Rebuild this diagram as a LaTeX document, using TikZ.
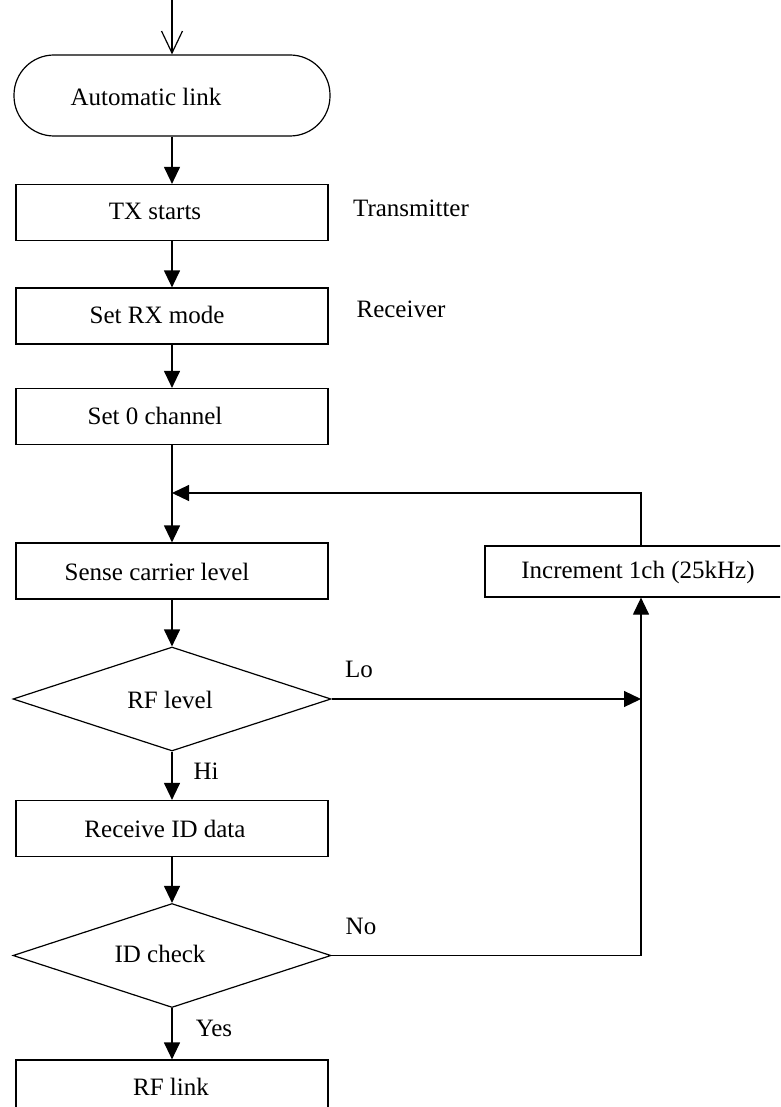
\documentclass[tikz,border=0pt]{standalone}
\usepackage{fontspec}
\setmainfont{Liberation Serif}
\usetikzlibrary{arrows.meta,shapes.geometric}
\begin{document}
\begin{tikzpicture}[x=1pt,y=-1pt,
  every node/.style={font=\fontsize{25}{30}\selectfont},
  line/.style={line width=1.2pt},
  flow/.style={line, -{Triangle[length=17pt,width=16pt]}},
  procbox/.style={draw, line width=1.2pt, minimum width=312pt, minimum height=56pt, inner sep=0pt},
  termbox/.style={draw, line width=1.2pt, rounded corners=40pt, minimum width=316pt, minimum height=81pt, inner sep=0pt},
  decision/.style={draw, line width=1.2pt, diamond, minimum width=318pt, minimum height=104pt, inner sep=0pt},
  note/.style={inner sep=0pt}]
\useasboundingbox (0,0) rectangle (780,1107);
\clip (0,0) rectangle (780,1107);

% main column
\coordinate (entry) at (172,0);
\node[termbox]  (start) at (172,95.5) {};
\node[note] at (146,97) {Automatic link};
\node[procbox]  (tx)    at (172,212.5) {};
\node[note] at (155,211) {TX starts};
\node[procbox]  (rx)    at (172,316) {};
\node[note] at (157,315) {Set RX mode};
\node[procbox]  (ch0)   at (172,416.5) {};
\node[note] at (155,416) {Set 0 channel};
\node[procbox]  (sense) at (172,571) {};
\node[note] at (157,572) {Sense carrier level};
\node[decision] (rf)    at (172,699) {};
\node[note] at (170,700) {RF level};
\node[procbox]  (rid)   at (172,828.5) {};
\node[note] at (165,829) {Receive ID data};
\node[decision] (idc)   at (172,955.5) {};
\node[note] at (160,954) {ID check};
\node[procbox, minimum height=57pt] (link) at (172,1088.5) {};
\node[note] at (171,1087) {RF link};

% side branch
\node[draw, line width=1.2pt, minimum width=299pt, minimum height=51pt, inner sep=0pt] (inc) at (634.5,571.5) {};
\node[note] at (638,572) {Increment 1ch (25kHz)};

% side notes and branch labels
\node[note] (ntx) at (411,208) {Transmitter};
\node[note] (nrx) at (401,309) {Receiver};
\node[note] (lo)  at (359,669) {Lo};
\node[note] (hi)  at (206,771) {Hi};
\node[note] (no)  at (361,926) {No};
\node[note] (yes) at (214,1028) {Yes};

% loop points
\coordinate (join) at (172,493);
\coordinate (loop) at (641,493);

% connectors
\draw[line, -{Straight Barb[length=22pt,width=21pt,line width=1.2pt]}] (entry) -- (start.north);
\draw[flow] (start) -- (tx);
\draw[flow] (tx) -- (rx);
\draw[flow] (rx) -- (ch0);
\draw[flow] (ch0.south) -- (sense.north);
\draw[flow] (sense) -- (rf);
\draw[flow] (rf) -- (rid);
\draw[flow] (rid) -- (idc);
\draw[flow] (idc) -- (link);
\draw[flow] (rf.east) -- (rf.east -| loop);
\draw[flow] (idc.east) -- (idc.east -| loop) -- (inc.south -| loop);
\draw[flow] (inc.north -| loop) -- (loop) -- (join);
\end{tikzpicture}
\end{document}
